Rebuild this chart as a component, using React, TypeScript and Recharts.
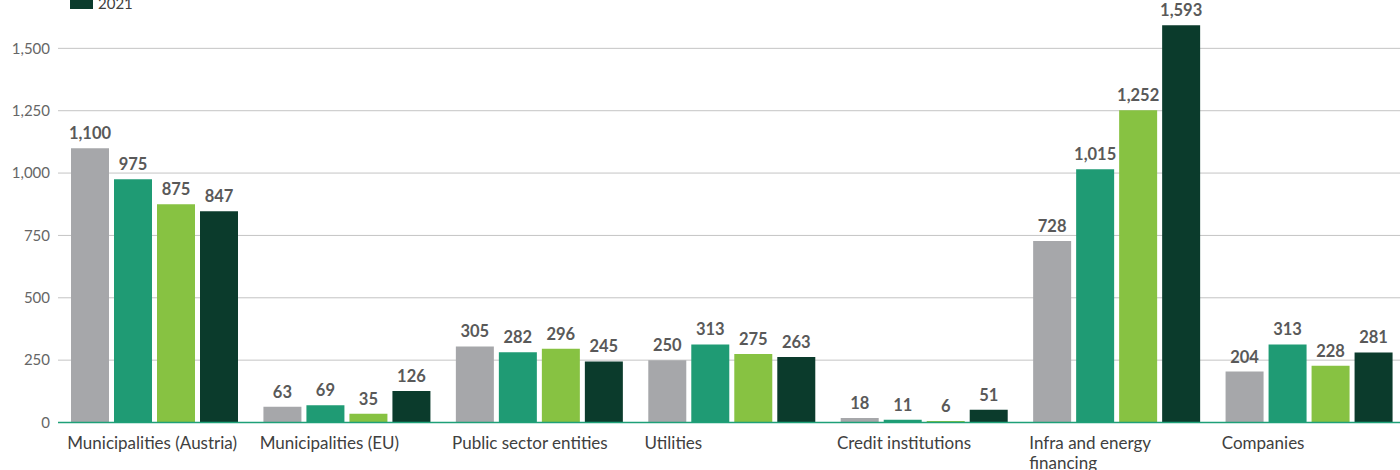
import React from "react";
import { BarChart, Bar, XAxis, YAxis, CartesianGrid, LabelList, Legend, Text } from "recharts";

const categories = [
  "Municipalities (Austria)",
  "Municipalities (EU)",
  "Public sector entities",
  "Utilities",
  "Credit institutions",
  "Infra and energy financing",
  "Companies",
];
const years = ["2018", "2019", "2020", "2021"];
const values2018 = [1100, 63, 305, 250, 18, 728, 204];
const values2019 = [975, 69, 282, 313, 11, 1015, 313];
const values2020 = [875, 35, 296, 275, 6, 1252, 228];
const values2021 = [847, 126, 245, 263, 51, 1593, 281];
const yTicks = [0, 250, 500, 750, 1000, 1250, 1500];

const colors = ["#a6a7aa", "#1f9b74", "#87c242", "#0b3b2c"];
const series = [values2018, values2019, values2020, values2021];

const data = categories.map((name, i) => {
  const row: Record<string, string | number> = { name };
  years.forEach((y, s) => {
    row[y] = series[s][i];
  });
  return row;
});

const FONT = "Lato, 'Noto Sans', sans-serif";
const fmt = (v: number) => Number(v).toLocaleString("en-US");

const CategoryTick = (props: any) => {
  const { x, y, payload } = props;
  return (
    <Text
      x={x - 87}
      y={y + 6}
      width={178}
      textAnchor="start"
      verticalAnchor="start"
      lineHeight={20}
      fontSize={17}
      fill="#404040"
      fontFamily={FONT}
      style={{ fontSize: 17, fontFamily: FONT }}
    >
      {payload.value}
    </Text>
  );
};

const renderLegend = (props: any) => {
  const { payload } = props;
  return (
    <div style={{ fontFamily: FONT }}>
      {payload.map((entry: any) => (
        <div key={entry.value} style={{ display: "flex", alignItems: "center", height: 20 }}>
          <span style={{ display: "inline-block", width: 23, height: 12, background: entry.color, marginRight: 5 }} />
          <span style={{ fontSize: 15, color: "#404040" }}>{entry.value}</span>
        </div>
      ))}
    </div>
  );
};

export default function App() {
  return (
    <div style={{ position: "relative", width: 1400, height: 470, overflow: "hidden", background: "#fff" }}>
      <style>{`body{margin:0;overflow:hidden;}`}</style>
      <div style={{ position: "absolute", top: -14, left: 0 }}>
        <BarChart
          width={1410}
          height={484}
          data={data}
          margin={{ top: 0, right: 5, left: 0, bottom: 0 }}
          barCategoryGap={13}
          barGap={5}
        >
          <CartesianGrid vertical={false} stroke="#c4c4c4" strokeWidth={1} />
          <XAxis
            dataKey="name"
            height={47.5}
            axisLine={{ stroke: "#1ea078", strokeWidth: 1.5 }}
            tickLine={false}
            tick={<CategoryTick />}
            interval={0}
          />
          <YAxis
            width={58}
            domain={[0, 1750]}
            ticks={yTicks}
            axisLine={false}
            tickLine={false}
            tickFormatter={fmt}
            tick={{ fill: "#666666", fontSize: 15, fontFamily: FONT }}
          />
          <Legend
            verticalAlign="middle"
            align="center"
            layout="horizontal"
            content={renderLegend}
            wrapperStyle={{ top: -53, left: 70, width: 120, height: 80 }}
          />
          {years.map((y, s) => (
            <Bar key={y} dataKey={y} fill={colors[s]} isAnimationActive={false}>
              <LabelList
                dataKey={y}
                position="top"
                offset={9}
                formatter={fmt}
                fill="#595959"
                fontSize={16.5}
                fontWeight="bold"
                fontFamily={FONT}
              />
            </Bar>
          ))}
        </BarChart>
      </div>
    </div>
  );
}
